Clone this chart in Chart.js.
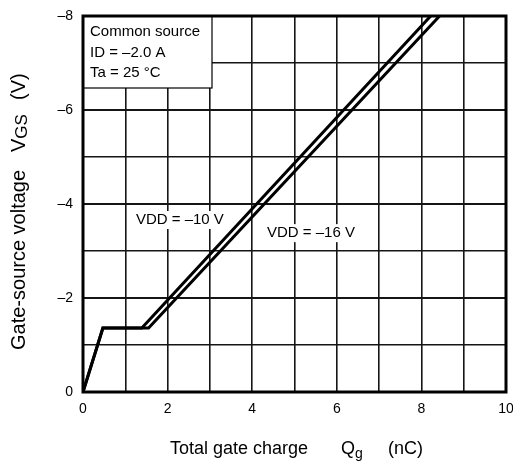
<!DOCTYPE html>
<html>
<head>
<meta charset="utf-8">
<script src="https://cdn.jsdelivr.net/npm/chart.js@4/dist/chart.umd.min.js"></script>
<style>
html,body{margin:0;padding:0;background:#fff;}
#wrap{width:513px;height:461px;}
</style>
</head>
<body>
<div id="wrap"><canvas id="c" width="513" height="461"></canvas></div>
<script>
// Data
const qg10 = [0, 0.47, 1.39, 8.22];
const vgs10 = [0, -1.36, -1.36, -8];
const qg16 = [0, 0.47, 1.55, 8.43];
const vgs16 = [0, -1.36, -1.36, -8];
const xTicks = [0, 2, 4, 6, 8, 10];
const yTicks = [0, -2, -4, -6, -8];
const seriesLabels = ['VDD = \u201310 V', 'VDD = \u201316 V'];
const labelPos10 = [1.25, -3.66];
const labelPos16 = [4.35, -3.38];
const conditions = ['Common source', 'ID = \u20132.0 A', 'Ta = 25 \u00b0C'];

const FONT = '"Liberation Sans", Arial, sans-serif';
const fmt = v => v < 0 ? '\u2013' + Math.abs(v) : String(v);
const pts = (xs, ys) => xs.map((x, i) => ({x: x, y: ys[i]}));

const overlay = {
  id: 'overlay',
  afterDatasetsDraw(chart) {
    const ctx = chart.ctx, a = chart.chartArea;
    const xs = chart.scales.x, ys = chart.scales.y;
    ctx.save();
    // conditions box
    const bw = 129, bh = 72;
    ctx.fillStyle = '#fff';
    ctx.fillRect(a.left, a.top, bw, bh);
    ctx.strokeStyle = '#000';
    ctx.lineWidth = 1.2;
    ctx.strokeRect(a.left, a.top, bw, bh);
    ctx.fillStyle = '#000';
    ctx.font = '15px ' + FONT;
    ctx.textBaseline = 'middle';
    ctx.textAlign = 'left';
    conditions.forEach((t, i) => ctx.fillText(t, a.left + 7, a.top + 16 + i * 20.5));
    // series labels
    const drawLab = (t, p) => {
      const x = xs.getPixelForValue(p[0]), y = ys.getPixelForValue(p[1]);
      const w = ctx.measureText(t).width;
      ctx.fillStyle = '#fff';
      ctx.fillRect(x - 2, y - 9, w + 4, 18);
      ctx.fillStyle = '#000';
      ctx.fillText(t, x, y);
    };
    drawLab(seriesLabels[0], labelPos10);
    drawLab(seriesLabels[1], labelPos16);
    // frame
    ctx.lineWidth = 3;
    ctx.strokeRect(a.left, a.top, a.right - a.left, a.bottom - a.top);
    // axis titles
    ctx.textAlign = 'left';
    ctx.textBaseline = 'alphabetic';
    const drawRun = (parts, size, subSize, subDrop, y) => {
      let cx = null;
      parts.forEach(p => {
        if (p.x !== undefined) cx = p.x;
        ctx.font = (p.sub ? subSize : size) + 'px ' + FONT;
        ctx.fillText(p.t, cx, y + (p.sub ? subDrop : 0));
        cx += ctx.measureText(p.t).width;
      });
    };
    drawRun([{t: 'Total gate charge', x: 170}, {t: 'Q', x: 341}, {t: 'g', sub: true}, {t: '(nC)', x: 388}], 18, 14, 4, 454);
    ctx.translate(25, 0);
    ctx.rotate(-Math.PI / 2);
    drawRun([{t: 'Gate-source voltage', x: -350}, {t: 'V', x: -152}, {t: 'GS', sub: true}, {t: '(V)', x: -100}], 20, 17, 2, 0);
    ctx.restore();
  }
};

new Chart(document.getElementById('c'), {
  type: 'line',
  data: {
    datasets: [
      {label: seriesLabels[0], data: pts(qg10, vgs10), borderColor: '#000', borderWidth: 3, pointRadius: 0, tension: 0, fill: false},
      {label: seriesLabels[1], data: pts(qg16, vgs16), borderColor: '#000', borderWidth: 3, pointRadius: 0, tension: 0, fill: false}
    ]
  },
  options: {
    responsive: false,
    animation: false,
    layout: {padding: {top: 16, right: 7, left: 0, bottom: 0}},
    plugins: {legend: {display: false}, tooltip: {enabled: false}},
    scales: {
      x: {
        type: 'linear', min: 0, max: 10,
        afterFit: s => { s.height = 69; s.paddingRight = 0; s.paddingLeft = 0; },
        ticks: {stepSize: 1, autoSkip: false, maxRotation: 0, color: '#000', font: {size: 14, family: FONT}, padding: 9,
          callback: v => xTicks.includes(v) ? fmt(v) : ''},
        grid: {color: '#151515', lineWidth: 1.6, drawTicks: false},
        border: {display: false}
      },
      y: {
        type: 'linear', min: -8, max: 0, reverse: true,
        afterFit: s => { s.width = 83; s.paddingTop = 0; s.paddingBottom = 0; },
        ticks: {stepSize: 1, autoSkip: false, color: '#000', font: {size: 14, family: FONT}, padding: 10,
          callback: v => yTicks.includes(v) ? fmt(v) : ''},
        grid: {color: '#151515', lineWidth: c => (c.tick && c.tick.value % 2 === 0) ? 2 : 1.6, drawTicks: false},
        border: {display: false}
      }
    }
  },
  plugins: [overlay]
});
</script>
</body>
</html>
